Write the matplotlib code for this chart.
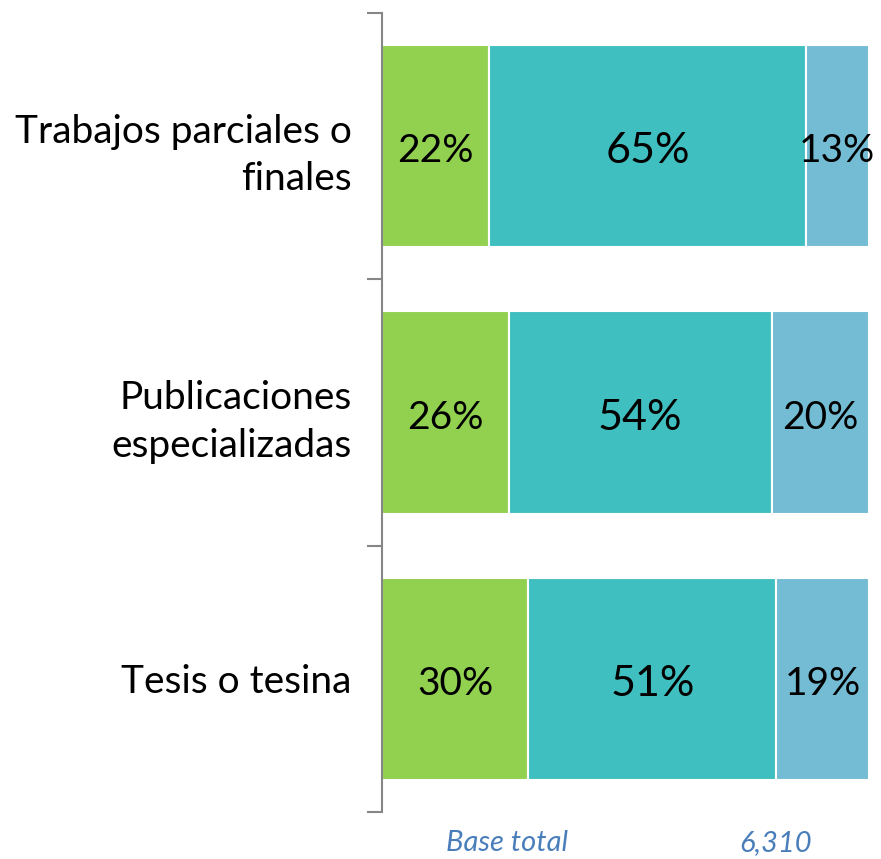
import matplotlib.pyplot as plt
import numpy as np

plt.rcParams['font.family'] = ['Lato', 'DejaVu Sans']

categorias = ['Trabajos parciales o\nfinales', 'Publicaciones\nespecializadas', 'Tesis o tesina']
seg1 = [22, 26, 30]
seg2 = [65, 54, 51]
seg3 = [13, 20, 19]
colores = ['#92D050', '#40BFC1', '#73BCD3']
tam_etiqueta = [28, 31, 28]

fig = plt.figure(figsize=(8.81, 8.59), dpi=100)
ax = fig.add_axes([382 / 881, 1 - 812 / 859, 487 / 881, 799 / 859])

y = np.arange(len(categorias))
izq = np.zeros(len(categorias))
for vals, col, fs in zip([seg1, seg2, seg3], colores, tam_etiqueta):
    vals = np.array(vals)
    ax.barh(y, vals, left=izq, height=0.76, color=col, edgecolor='white', linewidth=1.5)
    for yi, l, v in zip(y, izq, vals):
        ax.text(l + v / 2, yi + 0.02, f'{v}%', ha='center', va='center', fontsize=fs, color='black')
    izq = izq + vals

ax.set_xlim(0, 100)
ax.set_ylim(2.5, -0.5)
ax.set_xticks([])
for s in ['top', 'right', 'bottom']:
    ax.spines[s].set_visible(False)
ax.spines['left'].set_color('#868686')
ax.spines['left'].set_linewidth(1.5)

ax.set_yticks(y)
ax.set_yticklabels(categorias, fontsize=28, linespacing=1.4)
ax.tick_params(axis='y', which='major', length=0, pad=22)
ax.set_yticks([-0.5, 0.5, 1.5, 2.5], minor=True)
ax.tick_params(axis='y', which='minor', length=11, width=1.5, color='#868686')

fig.text(507 / 881, 1 - 843 / 859, 'Base total', ha='center', va='center',
         fontsize=21, style='italic', color='#4A7EBB')
fig.text(776 / 881, 1 - 843 / 859, '6,310', ha='center', va='center',
         fontsize=21, style='italic', color='#4A7EBB')

fig.savefig('out.png', dpi=100)
